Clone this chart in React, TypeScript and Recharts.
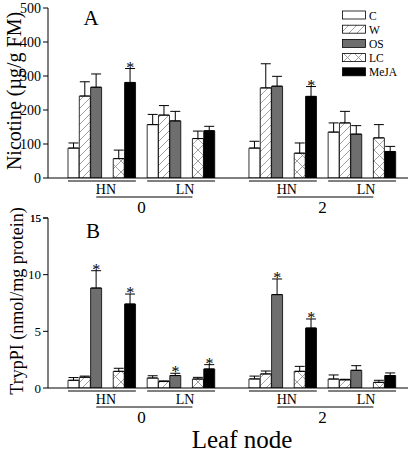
import React from 'react';
import { ComposedChart, Bar, Cell, ErrorBar, Scatter, XAxis, YAxis } from 'recharts';

const FONT = '"Liberation Serif", "Times New Roman", serif';

const treatments = ['C', 'W', 'OS', 'LC', 'MeJA'];
const nodes = ['0', '2'];
const levels = ['HN', 'LN'];

// nicotine (ug/g FM), order C, W, OS, LC, MeJA
const nicHN0 = [88, 241, 267, 57, 281];
const nicHN0Err = [15, 42, 39, 25, 41];
const nicLN0 = [157, 185, 168, 116, 139];
const nicLN0Err = [30, 28, 28, 22, 13];
const nicHN2 = [88, 265, 270, 73, 240];
const nicHN2Err = [20, 71, 29, 30, 29];
const nicLN2 = [135, 162, 129, 118, 78];
const nicLN2Err = [27, 34, 25, 39, 15];
const nicStars = ['HN0-MeJA', 'HN2-MeJA'];

// TrypPI (nmol/mg protein)
const tpiHN0 = [0.68, 0.95, 8.82, 1.47, 7.41];
const tpiHN0Err = [0.24, 0.1, 1.53, 0.27, 0.88];
const tpiLN0 = [0.88, 0.57, 1.1, 0.79, 1.68];
const tpiLN0Err = [0.2, 0.06, 0.2, 0.15, 0.38];
const tpiHN2 = [0.8, 1.24, 8.24, 1.47, 5.29];
const tpiHN2Err = [0.25, 0.26, 1.38, 0.44, 0.8];
const tpiLN2 = [0.79, 0.72, 1.56, 0.5, 1.1];
const tpiLN2Err = [0.36, 0.05, 0.41, 0.18, 0.23];
const tpiStars = ['HN0-OS', 'HN0-MeJA', 'LN0-OS', 'LN0-MeJA', 'HN2-OS', 'HN2-MeJA'];

const nicTicks = [0, 100, 200, 300, 400, 500];
const tpiTicks = [0, 5, 10, 15];

const FILL: Record<string, string> = {
  C: '#ffffff',
  W: 'url(#hatchW)',
  OS: '#6e6e6e',
  LC: 'url(#crossLC)',
  MeJA: '#000000',
};

// layout of the category axis (in bar slots)
const GAP_IN_GROUP_AFTER = 2; // empty slot after OS
const GAP_BETWEEN_LEVELS = 1;
const GAP_BETWEEN_NODES = 3;

type Row = { slot: string; trt?: string; level?: string; node?: string; v?: number; e?: number[]; star?: number };

function buildRows(vals: Record<string, number[]>, errs: Record<string, number[]>, stars: string[]): Row[] {
  const rows: Row[] = [];
  let g = 0;
  const gap = (n: number) => { for (let i = 0; i < n; i++) rows.push({ slot: 'gap' + g++ }); };
  nodes.forEach((node, ni) => {
    if (ni > 0) gap(GAP_BETWEEN_NODES);
    levels.forEach((level, li) => {
      if (li > 0) gap(GAP_BETWEEN_LEVELS);
      const key = level + node;
      treatments.forEach((trt, ti) => {
        const v = vals[key][ti];
        const e = errs[key][ti];
        const id = key + '-' + trt;
        rows.push({ slot: id, trt, level, node, v, e: [0, e], star: stars.includes(id) ? v + e : undefined });
        if (ti === GAP_IN_GROUP_AFTER) gap(1);
      });
    });
  });
  return rows;
}

const nicRows = buildRows(
  { HN0: nicHN0, LN0: nicLN0, HN2: nicHN2, LN2: nicLN2 },
  { HN0: nicHN0Err, LN0: nicLN0Err, HN2: nicHN2Err, LN2: nicLN2Err },
  nicStars
);
const tpiRows = buildRows(
  { HN0: tpiHN0, LN0: tpiLN0, HN2: tpiHN2, LN2: tpiLN2 },
  { HN0: tpiHN0Err, LN0: tpiLN0Err, HN2: tpiHN2Err, LN2: tpiLN2Err },
  tpiStars
);

const W = 416;
const H = 224;
const MARGIN = { top: 12, right: 8, bottom: 0, left: 8 };
const Y_W = 40;
const PAD = { left: 20, right: 12 };
const bandW = (W - MARGIN.left - MARGIN.right - Y_W - PAD.left - PAD.right) / nicRows.length;

function GroupTick(props: any) {
  const { x, y, payload, rows } = props;
  const row = rows.find((r: Row) => r.slot === payload.value);
  if (!row || row.trt !== 'C') return <g />;
  const left = x - bandW / 2;
  const right = left + 6 * bandW;
  return (
    <g>
      <line x1={left} x2={right} y1={y + 3} y2={y + 3} stroke="#000" strokeWidth={1} />
      <text x={left + 3.35 * bandW} y={y + 16} textAnchor="middle" fontSize={14} fontFamily={FONT} fill="#000">
        {row.level}
      </text>
      {row.level === 'HN' && (
        <g>
          <line x1={x + 2 * bandW} x2={x + 10.5 * bandW} y1={y + 19} y2={y + 19} stroke="#000" strokeWidth={1} />
          <text x={x + 6 * bandW} y={y + 35} textAnchor="middle" fontSize={17} fontFamily={FONT} fill="#000">
            {row.node}
          </text>
        </g>
      )}
    </g>
  );
}

function YTick(props: any) {
  const { x, y, payload, small, size } = props;
  const fs = small != null && Number(payload.value) === small ? 11 : size;
  return (
    <text x={x} y={y} dy={fs * 0.35} textAnchor="end" fontSize={fs} fontFamily={FONT} fill="#000">
      {String(payload.value)}
    </text>
  );
}

// top tick of the lower panel (drawn at the top of the y axis box)
function TopTick(props: any) {
  const vb = props.viewBox;
  if (!vb) return null;
  const ax = vb.x + vb.width;
  return (
    <g>
      <line x1={ax - 5} x2={ax} y1={vb.y} y2={vb.y} stroke="#000" strokeWidth={1} />
      <text x={ax - 7} y={vb.y + 4} textAnchor="end" fontSize={11} fontFamily={FONT} fill="#000">
        {props.value}
      </text>
    </g>
  );
}

function Star(props: any) {
  const { cx, cy, payload } = props;
  if (!payload || payload.star == null) return <g />;
  return (
    <text x={cx} y={cy + 4} textAnchor="middle" fontSize={16} fontFamily={FONT} fill="#000">
      *
    </text>
  );
}

function Panel({ rows, domain, ticks, small, size }: { rows: Row[]; domain: number[]; ticks: number[]; small?: number; size: number }) {
  return (
    <ComposedChart width={W} height={H} data={rows} margin={MARGIN} barCategoryGap={0} barGap={0}>
      <XAxis
        dataKey="slot"
        type="category"
        interval={0}
        height={42}
        padding={PAD}
        tickLine={false}
        tickSize={0}
        tickMargin={0}
        axisLine={{ stroke: '#000', strokeWidth: 1 }}
        tick={<GroupTick rows={rows} />}
      />
      <YAxis
        width={Y_W}
        domain={domain}
        ticks={ticks}
        interval={0}
        type="number"
        allowDataOverflow
        tickSize={5}
        tickLine={{ stroke: '#000' }}
        axisLine={{ stroke: '#000', strokeWidth: 1 }}
        tick={<YTick small={small} size={size} />}
        label={small != null ? { value: String(small), content: <TopTick /> } : undefined}
      />
      <Bar dataKey="v" isAnimationActive={false} stroke="#000" strokeWidth={0.8}>
        {rows.map((r, i) => (
          <Cell key={i} fill={r.trt ? FILL[r.trt] : 'none'} />
        ))}
        <ErrorBar dataKey="e" width={5} stroke="#000" strokeWidth={1} direction="y" />
      </Bar>
      <Scatter dataKey="star" isAnimationActive={false} fill="#000" shape={<Star />} />
    </ComposedChart>
  );
}

function LegendBox() {
  return (
    <svg width={70} height={74} style={{ position: 'absolute', left: 342, top: 8 }}>
      {treatments.map((t, i) => (
        <g key={t}>
          <rect x={0.5} y={3 + i * 14.2} width={23} height={8} fill={FILL[t]} stroke="#000" strokeWidth={0.8} />
          <text x={27} y={11.5 + i * 14.2} fontSize={11.5} fontFamily={FONT} fill="#000">
            {t}
          </text>
        </g>
      ))}
    </svg>
  );
}

const label: React.CSSProperties = {
  position: 'absolute',
  fontFamily: FONT,
  color: '#000',
  whiteSpace: 'nowrap',
  lineHeight: 1,
};

export default function App() {
  return (
    <div style={{ position: 'absolute', left: 0, top: 0, width: W, height: 454, background: '#fff', overflow: 'hidden' }}>
      <svg width={0} height={0} style={{ position: 'absolute' }}>
        <defs>
          <pattern id="hatchW" patternUnits="userSpaceOnUse" width={8} height={8}>
            <rect width={8} height={8} fill="#fff" />
            <path d="M-2,2 L2,-2 M0,8 L8,0 M6,10 L10,6" stroke="#8a8a8a" strokeWidth={0.8} />
          </pattern>
          <pattern id="crossLC" patternUnits="userSpaceOnUse" width={11} height={11}>
            <rect width={11} height={11} fill="#fff" />
            <path d="M0,0 L11,11 M11,0 L0,11" stroke="#8a8a8a" strokeWidth={0.8} />
          </pattern>
        </defs>
      </svg>
      <div style={{ position: 'absolute', left: 0, top: -4, zIndex: 1 }}>
        <Panel rows={nicRows} domain={[0, 500]} ticks={nicTicks} size={14} />
      </div>
      <div style={{ position: 'absolute', left: 0, top: 206, zIndex: 2 }}>
        <Panel rows={tpiRows} domain={[0, 15]} ticks={tpiTicks} small={15} size={13} />
      </div>
      <LegendBox />
      <div style={{ ...label, left: 91, top: 18, fontSize: 21, transform: 'translate(-50%,-50%)' }}>A</div>
      <div style={{ ...label, left: 93, top: 231, fontSize: 21, zIndex: 3, transform: 'translate(-50%,-50%)' }}>B</div>
      <div style={{ ...label, left: 14, top: 91, fontSize: 20, transform: 'translate(-50%,-50%) rotate(-90deg)' }}>
        Nicotine (µg/g FM)
      </div>
      <div style={{ ...label, left: 17, top: 301, fontSize: 18, zIndex: 3, transform: 'translate(-50%,-50%) rotate(-90deg)' }}>
        TrypPI (nmol/mg protein)
      </div>
      <div style={{ ...label, left: 242, top: 439, fontSize: 25, zIndex: 3, transform: 'translate(-50%,-50%)' }}>Leaf node</div>
    </div>
  );
}
